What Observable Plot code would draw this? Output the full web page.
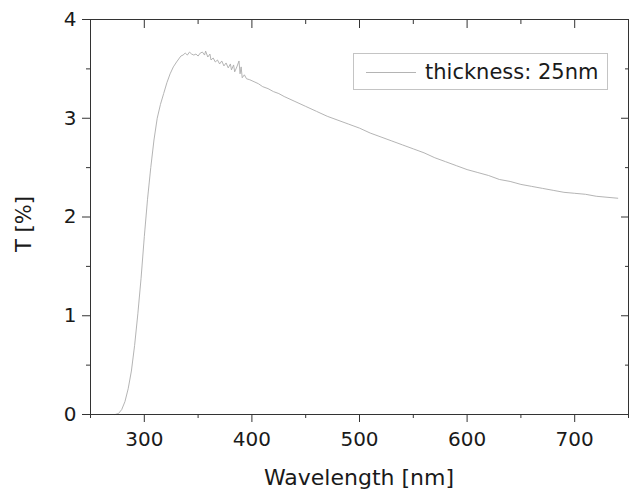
<!DOCTYPE html>
<html>
<head>
<meta charset="utf-8">
<script src="https://cdn.jsdelivr.net/npm/d3@7"></script>
<script src="https://cdn.jsdelivr.net/npm/@observablehq/plot@0.6"></script>
<style>
  html, body { margin: 0; padding: 0; background: #fff; }
  #wrap { position: relative; width: 635px; height: 492px; font-family: "DejaVu Sans", sans-serif; color: #1a1a1a; }
  .xlabel { position: absolute; left: 359px; top: 467px; transform: translateX(-50%); font-size: 22px; line-height: 22px; white-space: nowrap; }
  .ylabel { position: absolute; left: 24px; top: 224px; transform: translate(-50%, -50%) rotate(-90deg); font-size: 21px; line-height: 21px; white-space: nowrap; }
  .legend { position: absolute; left: 353px; top: 53px; width: 253px; height: 35px; border: 1px solid #c4c4c4; background: #fff; }
  .legend .swatch { position: absolute; left: 12px; top: 18px; width: 50px; height: 1px; background: #b4b4b4; }
  .legend .txt { position: absolute; left: 71px; top: 8px; font-size: 21px; line-height: 21px; white-space: nowrap; }
</style>
</head>
<body>
<div id="wrap"></div>
<script>
// Wavelength [nm] and transmittance T [%]
const wavelength = [
  273, 276, 279, 282, 285, 288, 291, 294, 297, 300,
  303, 306, 309, 312, 315, 318, 321, 324, 327, 330,
  332, 334, 336, 338, 340, 342, 344, 346, 348, 350,
  352, 354, 356, 357, 359, 361, 362, 364, 366, 368,
  370, 372, 374, 376, 378, 380, 381, 383, 384, 386,
  388, 389, 390, 391, 393, 395, 398, 402, 406, 410,
  415, 420, 425, 430, 440, 450, 460, 470, 480, 490,
  500, 510, 520, 530, 540, 550, 560, 570, 580, 590,
  600, 610, 620, 630, 640, 650, 660, 670, 680, 690,
  700, 710, 720, 730, 740
];
const transmittance = [
  0.00, 0.01, 0.05, 0.13, 0.26, 0.44, 0.70, 1.02, 1.38, 1.80,
  2.18, 2.50, 2.78, 3.00, 3.14, 3.25, 3.36, 3.45, 3.52, 3.57,
  3.60, 3.63, 3.64, 3.66, 3.64, 3.67, 3.65, 3.64, 3.65, 3.63,
  3.66, 3.67, 3.64, 3.68, 3.62, 3.65, 3.59, 3.61, 3.57, 3.59,
  3.55, 3.58, 3.53, 3.56, 3.51, 3.55, 3.49, 3.54, 3.47, 3.52,
  3.58, 3.45, 3.52, 3.41, 3.44, 3.40, 3.39, 3.37, 3.35, 3.32,
  3.30, 3.27, 3.25, 3.22, 3.17, 3.12, 3.07, 3.02, 2.98, 2.94,
  2.90, 2.85, 2.81, 2.77, 2.73, 2.69, 2.65, 2.60, 2.56, 2.52,
  2.48, 2.45, 2.42, 2.38, 2.36, 2.33, 2.31, 2.29, 2.27, 2.25,
  2.24, 2.23, 2.21, 2.20, 2.19
];
const xMajorTicks = [300, 400, 500, 600, 700];
const xMinorTicks = [250, 350, 450, 550, 650, 750];
const yMajorTicks = [0, 1, 2, 3, 4];
const yMinorTicks = [0.5, 1.5, 2.5, 3.5];
const seriesLabel = "thickness: 25nm";
const xLabel = "Wavelength [nm]";
const yLabel = "T [%]";

const data = wavelength.map((w, i) => ({w, t: transmittance[i]}));
const blank = () => "";
const plain = d => String(d);
const axisColor = "#333";

const chart = Plot.plot({
  width: 635,
  height: 492,
  marginTop: 19,
  marginRight: 7,
  marginBottom: 78,
  marginLeft: 90,
  x: {domain: [250, 750]},
  y: {domain: [0, 4]},
  style: {fontFamily: "DejaVu Sans, sans-serif", fontSize: "20px", background: "white", color: "#1a1a1a"},
  marks: [
    Plot.line(data, {x: "w", y: "t", stroke: "#ababab", strokeWidth: 0.9}),
    Plot.frame({stroke: axisColor}),
    // bottom axis
    Plot.axisX(xMajorTicks, {anchor: "bottom", tickSize: 8, tickPadding: 9, tickFormat: plain, label: null, stroke: axisColor, fontSize: 20}),
    Plot.axisX(xMinorTicks, {anchor: "bottom", tickSize: 4, tickFormat: blank, label: null, stroke: axisColor}),
    // top axis (inward ticks)
    Plot.axisX(xMajorTicks, {anchor: "top", tickSize: 8, dy: 8, tickFormat: blank, label: null, stroke: axisColor}),
    Plot.axisX(xMinorTicks, {anchor: "top", tickSize: 4, dy: 4, tickFormat: blank, label: null, stroke: axisColor}),
    // left axis
    Plot.axisY(yMajorTicks, {anchor: "left", tickSize: 8, tickPadding: 6, tickFormat: plain, label: null, stroke: axisColor, fontSize: 20}),
    Plot.axisY(yMinorTicks, {anchor: "left", tickSize: 4, tickFormat: blank, label: null, stroke: axisColor}),
    // right axis (inward ticks)
    Plot.axisY(yMajorTicks, {anchor: "right", tickSize: 8, dx: -8, tickFormat: blank, label: null, stroke: axisColor}),
    Plot.axisY(yMinorTicks, {anchor: "right", tickSize: 4, dx: -4, tickFormat: blank, label: null, stroke: axisColor})
  ]
});

const wrap = document.getElementById("wrap");
wrap.appendChild(chart);

const xl = document.createElement("div");
xl.className = "xlabel";
xl.textContent = xLabel;
wrap.appendChild(xl);

const yl = document.createElement("div");
yl.className = "ylabel";
yl.textContent = yLabel;
wrap.appendChild(yl);

const lg = document.createElement("div");
lg.className = "legend";
lg.innerHTML = '<div class="swatch"></div><div class="txt"></div>';
lg.querySelector(".txt").textContent = seriesLabel;
wrap.appendChild(lg);
</script>
</body>
</html>
